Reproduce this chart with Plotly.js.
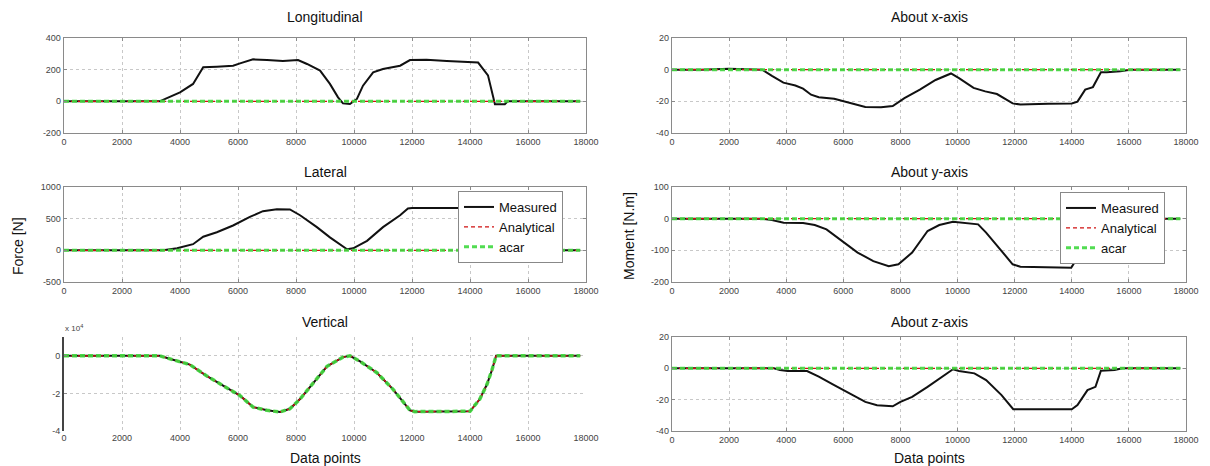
<!DOCTYPE html>
<html>
<head>
<meta charset="utf-8">
<script src="https://cdn.plot.ly/plotly-3.0.1.min.js"></script>
<style>html,body{margin:0;padding:0;background:#fff;}#chart{width:1210px;height:466px;}</style>
</head>
<body>
<div id="chart"></div>
<script>
// ---- Data ----
const panelTitles = ["Longitudinal", "Lateral", "Vertical", "About x-axis", "About y-axis", "About z-axis"];
const seriesNames = ["Measured", "Analytical", "acar"];
const xTicks = [0, 2000, 4000, 6000, 8000, 10000, 12000, 14000, 16000, 18000];
const zeroX = [0, 17800];
const zeroY = [0, 0];

const longX = [0,1000,2000,3000,3300,3550,4000,4450,4700,4800,5270,5830,6070,6520,7000,7550,8070,8380,8830,9170,9450,9620,9860,10100,10310,10660,11000,11590,11930,12500,13200,14000,14280,14620,14830,14860,15200,15300,16000,17000,17800];
const longY = [0,0,0,0,0,20,57,110,183,215,219,225,240,265,261,255,261,236,194,110,25,-13,-17,15,99,183,204,225,261,262,255,250,245,164,6,-19,-19,0,0,0,0];

const latX = [0,1000,2000,3000,3420,3900,4450,4800,5270,5830,6410,6860,7340,7790,8140,8720,9170,9760,9970,10450,11000,11590,11860,12000,13000,14000,14300,15000,16000,17800];
const latY = [0,0,0,0,0,32,97,215,285,392,527,618,650,645,554,366,204,16,32,150,366,554,661,670,670,670,600,0,0,0];

// Vertical force, in units of 1e4 N
const vertX = [0,1000,2000,3000,3300,3760,4340,4930,5620,6070,6520,7000,7450,7790,8140,8590,9070,9620,9860,10210,10790,11340,11930,12100,13000,14000,14340,14590,14760,14900,16000,17000,17800];
const vertY = [0,0,0,0,0,-0.21,-0.47,-1.08,-1.69,-2.12,-2.73,-2.9,-2.99,-2.82,-2.3,-1.43,-0.56,-0.07,0,-0.3,-0.9,-1.77,-2.9,-2.97,-2.97,-2.95,-2.3,-1.5,-0.74,0,0,0,0];

const mxX = [0,1000,2000,2500,3160,3500,3900,4320,4590,4870,5140,5680,6230,6770,7320,7730,8140,8680,9230,9640,9770,10050,10560,10970,11380,11930,12200,13180,14000,14200,14470,14740,15020,15220,15700,16040,17000,17800];
const mxY = [0,0,0.6,0.5,0,-3.9,-8.2,-10,-12,-15.8,-17.4,-18.4,-20.8,-23.5,-23.8,-23,-18,-12.6,-6.5,-3.3,-2.4,-5.4,-11.5,-13.7,-15.4,-21.3,-22,-21.5,-21.3,-20.2,-12.6,-11,-1.7,-1.7,-1,0,0,0];

const myX = [0,1000,2000,3090,3500,3910,4590,5000,5410,5960,6500,7050,7590,7930,8410,8950,9360,9840,10310,10720,11000,11520,11930,12200,13000,13980,14200,14600,15000,16000,17800];
const myY = [0,0,0,0,-4,-12.6,-14,-20,-34,-70,-107,-134,-150,-144,-107,-39,-20,-9.5,-15,-18,-44,-102,-144,-152,-154,-155,-123,-60,0,0,0];

const mzX = [0,1000,2000,3000,3570,3780,4050,4730,5140,5680,6230,6770,7180,7730,8000,8410,8950,9500,9840,10050,10590,11000,11540,11950,13000,14000,14200,14550,14830,15020,15500,15770,17000,17800];
const mzY = [0,0,0,0,0,-1,-1.7,-1.7,-5.3,-10.7,-16,-21.4,-23.5,-24.2,-21.4,-18.2,-11.8,-4.7,-0.6,-1.7,-3.2,-7.5,-17.1,-26.1,-26.1,-26.1,-23.5,-13.9,-11.8,-1.5,-1,0,0,0];

const yRanges = [[-200,400],[-500,1000],[-4,1],[-40,20],[-200,100],[-40,20]];
const yTicks = [[-200,0,200,400],[-500,0,500,1000],[-4,-2,0],[-40,-20,0,20],[-200,-100,0,100],[-40,-20,0,20]];

// ---- Styles ----
const W = 1210, H = 466;
const colX = [[64/W, 586/W], [672/W, 1186/W]];
const rowY = [[1-133/H, 1-38/H], [1-282/H, 1-187/H], [1-431/H, 1-337/H]];
const FONT = "Liberation Sans, Arial, sans-serif";
const cMeas = "#111111", cAna = "#d01010", cAcar = "#3fd83f";

const measured = [[longX,longY],[latX,latY],[vertX,vertY],[mxX,mxY],[myX,myY],[mzX,mzY]];

const traces = [];
const legendStyle = (x, y) => ({x: x, y: y, xanchor: "left", yanchor: "top", bgcolor: "#fff", bordercolor: "#888",
  borderwidth: 1, font: {family: FONT, size: 13, color: "#111"}, tracegroupgap: 0, itemwidth: 30});
const layout = {
  width: W, height: H,
  margin: {l:0, r:0, t:0, b:0},
  paper_bgcolor: "#fff", plot_bgcolor: "#fff",
  showlegend: true,
  font: {family: FONT, size: 10, color: "#222"},
  annotations: [],
  legend: legendStyle(458/W, 1-191/H),
  legend2: legendStyle(1060/W, 1-192/H)
};

for (let i = 0; i < 6; i++) {
  const col = i < 3 ? 0 : 1, row = i % 3;
  const n = i + 1;
  const xa = "x" + (n === 1 ? "" : n), ya = "y" + (n === 1 ? "" : n);
  const xk = "xaxis" + (n === 1 ? "" : n), yk = "yaxis" + (n === 1 ? "" : n);
  const isVert = (i === 2);
  const legendName = i === 1 ? "legend" : (i === 4 ? "legend2" : null);
  const [mx, my] = measured[i];
  const anaX = isVert ? mx : zeroX, anaY = isVert ? my : zeroY;
  traces.push({x: mx, y: my, xaxis: xa, yaxis: ya, mode: "lines", name: seriesNames[0],
    line: {color: cMeas, width: 2}, showlegend: !!legendName, legend: legendName || "legend"});
  traces.push({x: anaX, y: anaY, xaxis: xa, yaxis: ya, mode: "lines", name: seriesNames[1],
    line: {color: cAna, width: 1.3, dash: "4px,3px"}, showlegend: !!legendName, legend: legendName || "legend"});
  traces.push({x: anaX, y: anaY, xaxis: xa, yaxis: ya, mode: "lines", name: seriesNames[2],
    line: {color: cAcar, width: isVert ? 3.5 : 3, dash: "5px,3px"}, opacity: 0.9, showlegend: !!legendName, legend: legendName || "legend"});

  layout[xk] = {
    domain: colX[col], anchor: ya, range: [0, 18000], tickvals: xTicks, ticktext: xTicks.map(String),
    showgrid: true, gridcolor: "#c8c8c8", griddash: "dot", gridwidth: 1, zeroline: false,
    showline: !isVert, linecolor: "#8a8a8a", linewidth: 1.3, mirror: isVert ? false : "ticks",
    ticks: isVert ? "" : "inside", ticklen: 3, tickcolor: "#8a8a8a",
    tickfont: {family: FONT, size: 9, color: "#444"}, fixedrange: true
  };
  layout[yk] = {
    domain: rowY[row], anchor: xa, range: yRanges[i], tickvals: yTicks[i], ticktext: yTicks[i].map(String),
    showgrid: true, gridcolor: "#c8c8c8", griddash: "dot", gridwidth: 1, zeroline: false,
    showline: true, linecolor: isVert ? "#444" : "#8a8a8a", linewidth: isVert ? 2 : 1.3, mirror: isVert ? false : "ticks",
    ticks: "inside", ticklen: 3, tickcolor: "#8a8a8a",
    tickfont: {family: FONT, size: 9, color: "#444"}, fixedrange: true
  };

  const cx = (colX[col][0] + colX[col][1]) / 2;
  const titleY = [17, 172, 322][row];
  layout.annotations.push({text: panelTitles[i], xref: "paper", yref: "paper", x: cx, y: 1 - titleY/H,
    xanchor: "center", yanchor: "middle", showarrow: false, font: {family: FONT, size: 14, color: "#111"}});
}

// axis labels
layout.annotations.push({text: "Force [N]", xref: "paper", yref: "paper", x: 18/W, y: 1-246/H, textangle: -90,
  xanchor: "center", yanchor: "middle", showarrow: false, font: {family: FONT, size: 14, color: "#111"}});
layout.annotations.push({text: "Moment [N.m]", xref: "paper", yref: "paper", x: 629/W, y: 1-236/H, textangle: -90,
  xanchor: "center", yanchor: "middle", showarrow: false, font: {family: FONT, size: 14, color: "#111"}});
layout.annotations.push({text: "Data points", xref: "paper", yref: "paper", x: 325/W, y: 1-458/H,
  xanchor: "center", yanchor: "middle", showarrow: false, font: {family: FONT, size: 14, color: "#111"}});
layout.annotations.push({text: "Data points", xref: "paper", yref: "paper", x: 929/W, y: 1-458/H,
  xanchor: "center", yanchor: "middle", showarrow: false, font: {family: FONT, size: 14, color: "#111"}});
layout.annotations.push({text: "x 10<sup>4</sup>", xref: "paper", yref: "paper", x: 63/W, y: 1-328/H,
  xanchor: "left", yanchor: "middle", showarrow: false, font: {family: FONT, size: 8, color: "#444"}});

Plotly.newPlot("chart", traces, layout, {displayModeBar: false, staticPlot: true});
</script>
</body>
</html>
